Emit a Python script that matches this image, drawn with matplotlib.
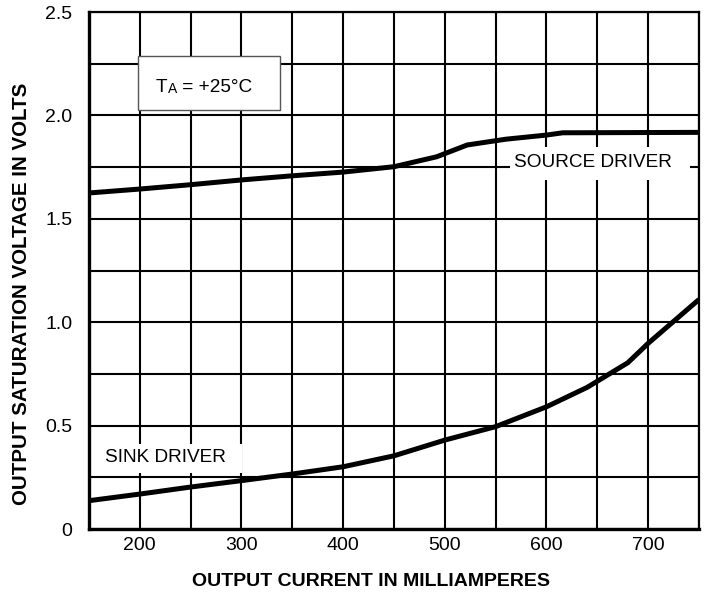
#!/usr/bin/env python3

import numpy as np
import matplotlib
matplotlib.use('Agg')
import matplotlib.pyplot as plt
from matplotlib.patches import Rectangle

plt.rcParams['font.family'] = ['Liberation Sans', 'DejaVu Sans']

# curves
source_ma = [150, 200, 250, 300, 350, 400, 450, 492, 522, 560, 600, 616, 680, 750]
source_v = [1.625, 1.644, 1.665, 1.688, 1.708, 1.726, 1.752, 1.80, 1.857, 1.885, 1.905, 1.916, 1.917, 1.918]

sink_ma = [150, 200, 250, 300, 350, 400, 450, 500, 550, 600, 640, 680, 700, 750]
sink_v = [0.137, 0.169, 0.203, 0.234, 0.266, 0.301, 0.354, 0.43, 0.495, 0.591, 0.685, 0.804, 0.898, 1.11]

x_ticks = np.arange(150, 751, 50)
x_labels = ['' if t % 100 else str(t) for t in x_ticks]
y_ticks = np.arange(0, 2.51, 0.25)
y_labels = ['0', '', '0.5', '', '1.0', '', '1.5', '', '2.0', '', '2.5']

fig = plt.figure(figsize=(7.05, 5.92), dpi=100)
ax = fig.add_axes([0.1262, 0.1064, 0.8653, 0.8733])

ax.plot(source_ma, source_v, color='black', lw=3.6, zorder=4, solid_capstyle='butt')
ax.plot(sink_ma, sink_v, color='black', lw=3.6, zorder=4, solid_capstyle='butt')

ax.set_xlim(150, 750)
ax.set_ylim(0, 2.5)
ax.set_xticks(x_ticks)
ax.set_xticklabels(x_labels)
ax.set_yticks(y_ticks)
ax.set_yticklabels(y_labels)
ax.tick_params(axis='both', length=0, labelsize=14)
ax.tick_params(axis='x', pad=6)
ax.tick_params(axis='y', pad=12)
ax.grid(True, color='black', lw=1.5, zorder=1)
ax.set_axisbelow(True)

for side in ['left', 'bottom']:
    ax.spines[side].set_linewidth(2.4)
for side in ['top', 'right']:
    ax.spines[side].set_linewidth(1.6)

# label boxes that blank out the grid
ax.add_patch(Rectangle((564, 1.688), 177, 0.159, facecolor='white', edgecolor='none', zorder=2))
ax.text(646, 1.77, 'SOURCE DRIVER', fontsize=13.7, ha='center', va='center', zorder=3)

ax.add_patch(Rectangle((151, 0.271), 150, 0.140, facecolor='white', edgecolor='none', zorder=2))
ax.text(166, 0.345, 'SINK DRIVER', fontsize=13.7, ha='left', va='center', zorder=3)

ax.add_patch(Rectangle((198, 2.026), 140, 0.261, facecolor='white', edgecolor='#555555', lw=1.0, zorder=2))
t1 = ax.text(216, 2.115, 'T', fontsize=13.7, ha='left', va='baseline', zorder=3)
t2 = ax.annotate('A', xy=(1, 0), xycoords=t1, fontsize=10, ha='left', va='bottom', zorder=3)
ax.annotate(' = +25°C', xy=(1, 0), xycoords=t2, fontsize=13.7, ha='left', va='bottom', zorder=3)

fig.text(371 / 705, 1 - 581 / 592, 'OUTPUT CURRENT IN MILLIAMPERES',
         fontsize=14, fontweight='bold', ha='center', va='center')
fig.text(22 / 705, 1 - 294 / 592, 'OUTPUT SATURATION VOLTAGE IN VOLTS',
         fontsize=14.8, fontweight='bold', ha='center', va='center', rotation=90)

fig.savefig('out.png', dpi=100)
